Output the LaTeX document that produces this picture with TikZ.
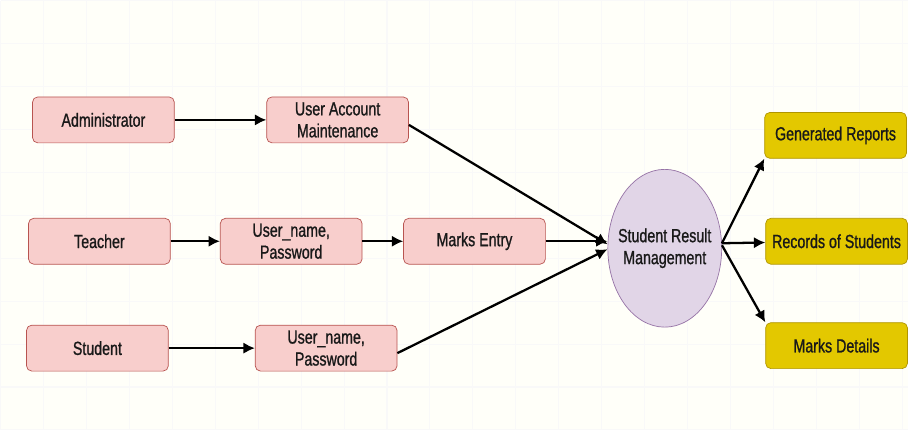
\documentclass[tikz,border=0pt]{standalone}
\usepackage{fontspec}
\setmainfont{Liberation Sans}[FakeStretch=0.75, FakeBold=1]
\usetikzlibrary{shapes.geometric, arrows.meta}

\definecolor{actorfill}{HTML}{F8CECC}
\definecolor{actordraw}{HTML}{B85450}
\definecolor{outfill}{HTML}{E3C800}
\definecolor{outdraw}{HTML}{B09500}
\definecolor{procfill}{HTML}{E1D5E7}
\definecolor{procdraw}{HTML}{9673A6}
\definecolor{sheet}{HTML}{FFFFF9}

\begin{document}
\begin{tikzpicture}[x=0.02cm, y=-0.02cm, >={Latex[length=6.5pt, width=6.5pt]},
    every node/.style={font=\fontsize{10.8}{12.5}\selectfont, align=center, text=black!90},
    actor/.style={draw=actordraw, fill=actorfill, rounded corners=3pt,
        minimum width=2.84cm, minimum height=0.92cm, inner sep=1pt},
    output/.style={actor, draw=outdraw, fill=outfill},
    process/.style={ellipse, draw=procdraw, fill=procfill,
        minimum width=2.28cm, minimum height=3.16cm, inner sep=0pt},
    flow/.style={->, line width=1.3pt}]
    % sheet and its faint grid
    \fill[sheet] (0,0) rectangle (909,430);
    \draw[black!2.5, line width=0.6pt, step=0.86cm] (0,0) grid (909,430);
    \useasboundingbox (0,0) rectangle (909,430);

    % users and their inputs
    \node[actor] (adm) at (103,119.5) {Administrator};
    \node[actor] (uam) at (337.5,119.5) {User Account\\Maintenance};
    \node[actor] (tch) at (99,241) {Teacher};
    \node[actor] (tlog) at (291,241) {User\_name,\\Password};
    \node[actor] (mark) at (474.5,241) {Marks Entry};
    \node[actor] (stu) at (97,348) {Student};
    \node[actor] (slog) at (326,348) {User\_name,\\Password};

    % the system (the text sits on top, so it does not widen the ellipse)
    \node[process] (srm) at (665,248) {};
    \node (srmtext) at (srm) {Student Result\\Management};

    % what comes out of it
    \node[output] (gen) at (836,135) {Generated Reports};
    \node[output] (rec) at (837,241) {Records of Students};
    \node[output] (det) at (837,345.5) {Marks Details};

    \draw[flow] (adm) -- (uam);
    \draw[flow] (tch) -- (tlog);
    \draw[flow] (tlog) -- (mark);
    \draw[flow] (stu) -- (slog);
    \draw[flow] ([yshift=-0.1cm]uam.east) -- (srm.176);
    \draw[flow] (mark) -- (mark -| srm.west);
    \draw[flow] ([yshift=-0.1cm]slog.east) -- (srm.181);
    \draw[flow] (srm.5) -- (gen.south west);
    \draw[flow] (srm.5) -- (rec);
    \draw[flow] (srm.3) -- (det.north west);
\end{tikzpicture}
\end{document}
